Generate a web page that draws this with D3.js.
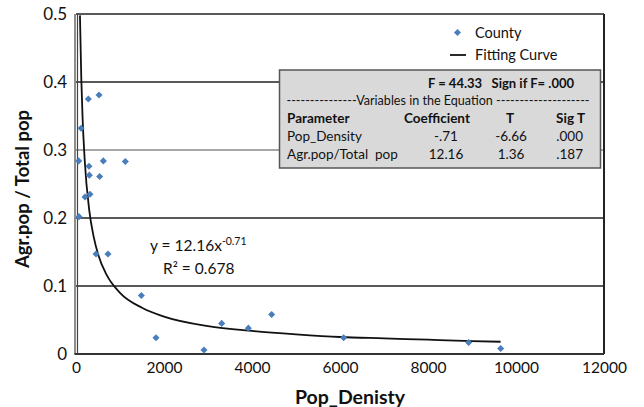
<!DOCTYPE html>
<html>
<head>
<meta charset="utf-8">
<script src="https://cdn.jsdelivr.net/npm/d3@7"></script>
<style>
  body { margin: 0; background: #fff; }
  text { font-family: Lato, "Open Sans", sans-serif; }
</style>
</head>
<body>
<div id="chart"></div>
<script>
let width = 644;
let height = 407;

// county points (Pop_Density, Agr.pop/Total pop)
let countyX = [61, 68, 114, 205, 280, 295, 303, 318, 455, 523, 538, 621, 727, 1121, 1485, 1818, 2909, 3311, 3917, 4447, 6083, 8924, 9652];
let countyY = [0.284, 0.202, 0.332, 0.231, 0.375, 0.276, 0.263, 0.235, 0.147, 0.381, 0.261, 0.284, 0.147, 0.283, 0.086, 0.024, 0.006, 0.045, 0.038, 0.058, 0.024, 0.017, 0.008];

// fitting curve
let curveX = [90, 120, 150, 200, 300, 400, 500, 700, 1000, 1500, 2000, 3000, 4000, 5000, 6000, 7000, 8000, 9000, 9650];
let curveY = [0.498, 0.406, 0.347, 0.283, 0.212, 0.173, 0.147, 0.116, 0.090, 0.068, 0.055, 0.041, 0.034, 0.029, 0.025, 0.023, 0.021, 0.019, 0.018];

let xTicks = [0, 2000, 4000, 6000, 8000, 10000, 12000];
let yTicks = [0, 0.1, 0.2, 0.3, 0.4, 0.5];

let statHeader = ["Parameter", "Coefficient", "T", "Sig T"];
let statRows = [
  ["Pop_Density", "-.71", "-6.66", ".000"],
  ["Agr.pop/Total\u00a0 pop", "12.16", "1.36", ".187"]
];

let svg = d3.select("#chart")
  .append("svg")
  .attr("width", width)
  .attr("height", height);

let x = d3.scaleLinear().domain([0, 12000]).range([76, 604]);
let y = d3.scaleLinear().domain([0, 0.5]).range([354, 14]);

// gridlines
svg.append("g")
  .selectAll("line")
  .data(yTicks.filter(d => d > 0 && d < 0.5))
  .enter()
  .append("line")
  .attr("x1", x(0))
  .attr("x2", x(12000))
  .attr("y1", d => y(d))
  .attr("y2", d => y(d))
  .attr("stroke", d => d == 0.3 ? "#8a8a8a" : "#222")
  .attr("stroke-width", 1.5);

// frame
svg.append("line")
  .attr("x1", x(0)).attr("x2", x(12000))
  .attr("y1", y(0.5)).attr("y2", y(0.5))
  .attr("stroke", "#222").attr("stroke-width", 1.5);
svg.append("line")
  .attr("x1", x(12000)).attr("x2", x(12000))
  .attr("y1", y(0.5)).attr("y2", y(0))
  .attr("stroke", "#222").attr("stroke-width", 2);
svg.append("line")
  .attr("x1", x(0) - 1).attr("x2", x(0) - 1)
  .attr("y1", y(0.5)).attr("y2", y(0))
  .attr("stroke", "#444").attr("stroke-width", 1.2);
svg.append("line")
  .attr("x1", x(0) + 1.5).attr("x2", x(0) + 1.5)
  .attr("y1", y(0.5)).attr("y2", y(0))
  .attr("stroke", "#444").attr("stroke-width", 1.2);
svg.append("line")
  .attr("x1", x(0) - 1.5).attr("x2", x(12000))
  .attr("y1", y(0)).attr("y2", y(0))
  .attr("stroke", "#333").attr("stroke-width", 2);

// axes (labels only)
svg.append("g")
  .attr("transform", `translate(0, ${y(0)})`)
  .call(d3.axisBottom(x).tickValues(xTicks).tickFormat(d3.format("d")).tickSize(0).tickPadding(8))
  .call(g => g.select(".domain").remove())
  .selectAll("text")
  .attr("font-size", 15.5)
  .attr("font-family", "Lato, sans-serif")
  .attr("fill", "#111");

svg.append("g")
  .attr("transform", `translate(${x(0)}, 0)`)
  .call(d3.axisLeft(y).tickValues(yTicks).tickFormat(d => d == 0 ? "0" : d3.format(".1f")(d)).tickSize(0).tickPadding(9))
  .call(g => g.select(".domain").remove())
  .selectAll("text")
  .attr("font-size", 17)
  .attr("font-family", "Lato, sans-serif")
  .attr("fill", "#111");

// fitting curve
let line = d3.line()
  .x(d => x(d[0]))
  .y(d => y(d[1]))
  .curve(d3.curveMonotoneX);

svg.append("path")
  .attr("d", line(curveX.map((d, i) => [d, curveY[i]])))
  .attr("fill", "none")
  .attr("stroke", "#111")
  .attr("stroke-width", 1.8);

// county points
let diamond = d3.symbol().type(d3.symbolDiamond2).size(32);
svg.append("g")
  .selectAll("path")
  .data(countyX.map((d, i) => [d, countyY[i]]))
  .enter()
  .append("path")
  .attr("d", diamond)
  .attr("transform", d => `translate(${x(d[0])}, ${y(d[1])})`)
  .attr("fill", "#4a7ebb");

// legend
svg.append("path")
  .attr("d", diamond)
  .attr("transform", "translate(457.5, 32.5)")
  .attr("fill", "#4a7ebb");
svg.append("text")
  .attr("x", 475).attr("y", 38)
  .attr("font-size", 14.5)
  .attr("fill", "#111")
  .text("County");
svg.append("line")
  .attr("x1", 450).attr("x2", 466)
  .attr("y1", 55).attr("y2", 55)
  .attr("stroke", "#111").attr("stroke-width", 1.8);
svg.append("text")
  .attr("x", 475).attr("y", 60)
  .attr("font-size", 14.5)
  .attr("fill", "#111")
  .text("Fitting Curve");

// statistics box
let box = svg.append("g");
box.append("rect")
  .attr("x", 279.5).attr("y", 70)
  .attr("width", 321).attr("height", 98)
  .attr("fill", "#d9d9d9")
  .attr("stroke", "#555")
  .attr("stroke-width", 1.5);

box.append("text")
  .attr("x", 574).attr("y", 88)
  .attr("text-anchor", "end")
  .attr("font-size", 13)
  .attr("font-weight", "bold")
  .attr("fill", "#111")
  .attr("xml:space", "preserve")
  .text("F = 44.33   Sign if F= .000");

box.append("text")
  .attr("x", 438).attr("y", 105)
  .attr("text-anchor", "middle")
  .attr("font-size", 13)
  .attr("fill", "#111")
  .attr("textLength", 303)
  .attr("lengthAdjust", "spacingAndGlyphs")
  .text("---------------Variables in the Equation --------------------");

let colX = [287, 437, 510, 585];
let colAnchor = ["start", "middle", "middle", "end"];

box.append("g")
  .selectAll("text")
  .data(statHeader)
  .enter()
  .append("text")
  .attr("x", (d, i) => colX[i])
  .attr("y", 123)
  .attr("text-anchor", (d, i) => colAnchor[i])
  .attr("font-size", 13.5)
  .attr("font-weight", "bold")
  .attr("fill", "#111")
  .text(d => d);

statRows.forEach((row, r) => {
  box.append("g")
    .selectAll("text")
    .data(row)
    .enter()
    .append("text")
    .attr("x", (d, i) => i == 1 ? 446 : i == 2 ? 511 : i == 3 ? 583 : colX[i])
    .attr("y", 141 + r * 18)
    .attr("text-anchor", (d, i) => colAnchor[i])
    .attr("font-size", 13.5)
    .attr("fill", "#111")
    .text(d => d);
});

// equation
let eq = svg.append("text")
  .attr("x", 150).attr("y", 251)
  .attr("font-size", 15.5)
  .attr("fill", "#111");
eq.append("tspan").text("y = 12.16x");
eq.append("tspan")
  .attr("dy", -6)
  .attr("font-size", 10.5)
  .text("-0.71");
svg.append("text")
  .attr("x", 163).attr("y", 274)
  .attr("font-size", 15.5)
  .attr("fill", "#111")
  .text("R\u00b2 = 0.678");

// axis titles
svg.append("text")
  .attr("transform", "translate(29, 189) rotate(-90)")
  .attr("text-anchor", "middle")
  .attr("font-size", 18.5)
  .attr("font-weight", "bold")
  .attr("fill", "#111")
  .text("Agr.pop / Total pop");

svg.append("text")
  .attr("x", 350).attr("y", 404)
  .attr("text-anchor", "middle")
  .attr("font-size", 19.5)
  .attr("font-weight", "bold")
  .attr("fill", "#111")
  .text("Pop_Denisty");
</script>
</body>
</html>
